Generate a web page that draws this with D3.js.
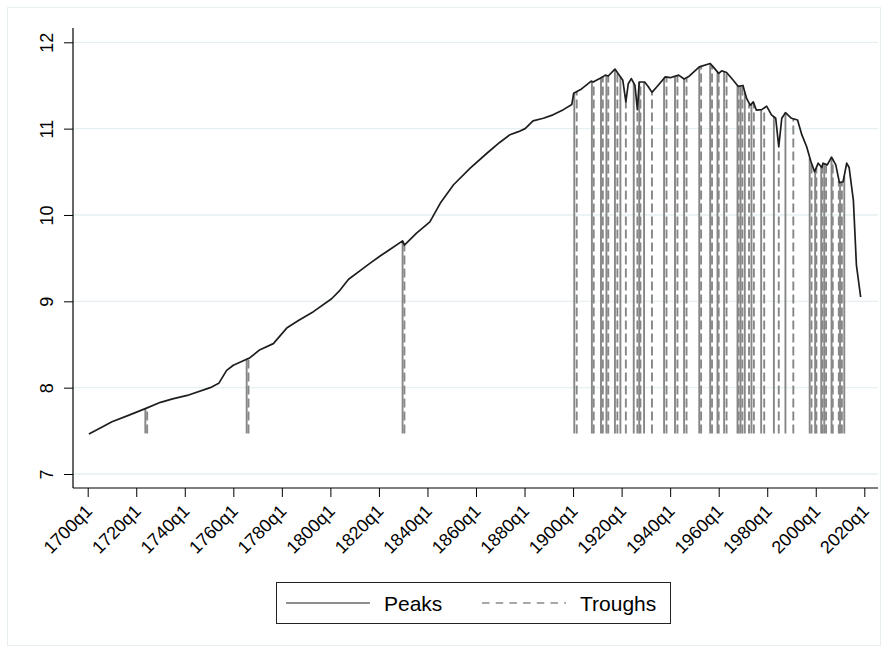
<!DOCTYPE html>
<html>
<head>
<meta charset="utf-8">
<script src="https://cdn.jsdelivr.net/npm/d3@7"></script>
<style>
  body { margin: 0; background: #fff; }
  text { font-family: "Liberation Sans", Arial, Helvetica, sans-serif; fill: #000; }
</style>
</head>
<body>
<div id="chart-container"></div>
<script>
// series (year as decimal, quarterly dates)
const seriesYears = [1700.5, 1705, 1710, 1716, 1724, 1730, 1735, 1741, 1750.5, 1754, 1757.25, 1760, 1765.5, 1766.5,
  1771, 1776.5, 1782, 1787, 1793, 1800.5, 1804, 1807.5, 1812, 1816.25, 1820.5, 1824.5, 1829.75, 1830.5, 1835.5,
  1841, 1845.25, 1850.75, 1857.5, 1864.5, 1869.75, 1874, 1877.5, 1880.25, 1883.5, 1887.75, 1891.75, 1896, 1899.5,
  1900.25, 1903.5, 1907.5, 1908.25, 1911, 1912.25, 1913.25, 1914.5, 1917.25, 1919.25, 1920.5, 1921.75, 1922.75,
  1924, 1925.5, 1926.5, 1927.25, 1929.5, 1931, 1932.5, 1935, 1938, 1940, 1943.5, 1945.75, 1947.5, 1951, 1952,
  1956.5, 1957.75, 1960, 1961.25, 1963.25, 1966, 1968, 1970, 1971.5, 1973, 1974.25, 1975.5, 1977.75, 1979.75,
  1981.75, 1983.5, 1984.75, 1986, 1987.5, 1990, 1992.5, 1994.25, 1996.25, 1998, 1999.5, 2001, 2002.5, 2003,
  2004.75, 2006.5, 2008.25, 2009.75, 2011.25, 2012.75, 2013.75, 2015.5, 2016.75, 2018.5];
const seriesValues = [7.463, 7.53, 7.605, 7.67, 7.76, 7.83, 7.87, 7.91, 8.0, 8.05, 8.2, 8.26, 8.33, 8.34,
  8.44, 8.51, 8.69, 8.78, 8.88, 9.03, 9.13, 9.255, 9.35, 9.44, 9.525, 9.6, 9.7, 9.65, 9.79,
  9.92, 10.135, 10.35, 10.54, 10.715, 10.84, 10.93, 10.965, 11.0, 11.09, 11.12, 11.16, 11.22, 11.28,
  11.41, 11.46, 11.55, 11.54, 11.58, 11.6, 11.62, 11.61, 11.69, 11.61, 11.56, 11.31, 11.52,
  11.58, 11.5, 11.22, 11.54, 11.54, 11.485, 11.42, 11.5, 11.6, 11.59, 11.62, 11.575, 11.6, 11.69, 11.715,
  11.755, 11.715, 11.64, 11.67, 11.65, 11.56, 11.49, 11.5, 11.35, 11.27, 11.31, 11.215, 11.22, 11.26,
  11.16, 11.12, 10.79, 11.12, 11.185, 11.12, 11.1, 10.93, 10.79, 10.62, 10.5, 10.6, 10.55, 10.6,
  10.58, 10.67, 10.58, 10.375, 10.385, 10.6, 10.55, 10.17, 9.42, 9.05];

const peakYears = [1723.75, 1765.5, 1829.75, 1900.5, 1907.75, 1911.5, 1913.75, 1917.25, 1919.5, 1925, 1927.25,
  1929.25, 1937.5, 1942, 1945.75, 1952, 1956.5, 1959.5, 1962.25, 1967.75, 1969, 1970.75, 1973.5, 1977.5,
  1982.75, 1987.5, 1997.5, 1999.75, 2002.25, 2003.5, 2006.5, 2010, 2011.75];
const peakValues = [7.76, 8.33, 9.7, 11.42, 11.555, 11.585, 11.62, 11.69, 11.6, 11.53, 11.54,
  11.54, 11.59, 11.61, 11.575, 11.715, 11.755, 11.65, 11.66, 11.5, 11.495, 11.42, 11.29, 11.22,
  11.14, 11.185, 10.66, 10.52, 10.555, 10.595, 10.67, 10.378, 10.45];

const troughYears = [1724.5, 1766.25, 1830.5, 1901.5, 1908.5, 1912.25, 1914.5, 1918.25, 1921.75, 1926.5, 1927.75,
  1932.5, 1938.5, 1943, 1946.75, 1952.75, 1957.25, 1960, 1963.25, 1968.25, 1969.75, 1972.5, 1974.5, 1978.75,
  1984.75, 1990.75, 1998.25, 2000.25, 2002.75, 2004.25, 2007, 2009.5, 2010.75];
const troughValues = [7.765, 8.34, 9.65, 11.43, 11.545, 11.6, 11.61, 11.65, 11.31, 11.22, 11.54,
  11.42, 11.6, 11.62, 11.585, 11.72, 11.73, 11.64, 11.65, 11.49, 11.5, 11.28, 11.29, 11.24,
  10.79, 11.115, 10.6, 10.545, 10.57, 10.585, 10.645, 10.39, 10.38];

const spikeBase = 7.47;
const xTickYears = [1700, 1720, 1740, 1760, 1780, 1800, 1820, 1840, 1860, 1880, 1900, 1920, 1940, 1960, 1980, 2000, 2020];
const yTicks = [7, 8, 9, 10, 11, 12];
const legendLabels = ["Peaks", "Troughs"];

const width = 888, height = 653;
const plot = { left: 73, right: 878, top: 28, bottom: 488 };
const spikeColor = "#878787";

const svg = d3.select("#chart-container").append("svg")
  .attr("width", width).attr("height", height);

// graph region outline
svg.append("rect")
  .attr("x", 7.5).attr("y", 7.5).attr("width", 873).attr("height", 638)
  .attr("fill", "none").attr("stroke", "#e8eff1");

const x = d3.scaleLinear().domain([1700, 2020]).range([87.7, 864.3]);
const y = d3.scaleLinear().domain([7, 12]).range([474, 42.3]);

// gridlines
svg.append("g").selectAll("line").data(yTicks).join("line")
  .attr("x1", plot.left).attr("x2", plot.right)
  .attr("y1", d => y(d)).attr("y2", d => y(d))
  .attr("stroke", "#e6eff1").attr("stroke-width", 1.3);

// peaks and troughs as spikes
const peaks = peakYears.map((t, i) => ({ t, v: peakValues[i] }));
const troughs = troughYears.map((t, i) => ({ t, v: troughValues[i] }));

svg.append("g").selectAll("line").data(peaks).join("line")
  .attr("x1", d => x(d.t)).attr("x2", d => x(d.t))
  .attr("y1", y(spikeBase)).attr("y2", d => y(d.v))
  .attr("stroke", spikeColor).attr("stroke-width", 1.9);

svg.append("g").selectAll("line").data(troughs).join("line")
  .attr("x1", d => x(d.t)).attr("x2", d => x(d.t))
  .attr("y1", y(spikeBase)).attr("y2", d => y(d.v))
  .attr("stroke", spikeColor).attr("stroke-width", 1.9)
  .attr("stroke-dasharray", "9,4");

// main series
const series = seriesYears.map((t, i) => ({ t, v: seriesValues[i] }));
const line = d3.line().x(d => x(d.t)).y(d => y(d.v));
svg.append("path").datum(series)
  .attr("fill", "none").attr("stroke", "#1e1e1e")
  .attr("stroke-width", 1.7).attr("stroke-linejoin", "round")
  .attr("d", line);

// axes
const yAxis = svg.append("g").attr("transform", `translate(${plot.left},0)`)
  .call(d3.axisLeft(y).tickValues(yTicks).tickFormat(d3.format("d")).tickSize(9).tickSizeOuter(0).tickPadding(0));
yAxis.select(".domain").remove();
yAxis.selectAll(".tick line").attr("stroke", "#000");
yAxis.selectAll(".tick text")
  .attr("font-size", 18)
  .attr("text-anchor", "middle")
  .attr("x", null).attr("dy", null)
  .attr("dominant-baseline", "central")
  .attr("transform", "translate(-26,0) rotate(-90)");

const xAxis = svg.append("g").attr("transform", `translate(0,${plot.bottom})`)
  .call(d3.axisBottom(x).tickValues(xTickYears).tickFormat(d => `${d}q1`).tickSize(9).tickSizeOuter(0));
xAxis.select(".domain").remove();
xAxis.selectAll(".tick line").attr("stroke", "#000");
xAxis.selectAll(".tick text")
  .attr("font-size", 18)
  .attr("text-anchor", "end")
  .attr("y", null).attr("dy", null)
  .attr("dominant-baseline", "central")
  .attr("transform", "translate(1,20) rotate(-45)");

svg.append("line")
  .attr("x1", plot.left).attr("x2", plot.left)
  .attr("y1", plot.top).attr("y2", plot.bottom)
  .attr("stroke", "#000").attr("stroke-width", 1.2);
svg.append("line")
  .attr("x1", plot.left).attr("x2", plot.right)
  .attr("y1", plot.bottom).attr("y2", plot.bottom)
  .attr("stroke", "#000").attr("stroke-width", 1.2);

// legend
const legend = svg.append("g");
legend.append("rect")
  .attr("x", 276.5).attr("y", 582.5).attr("width", 394).attr("height", 41)
  .attr("fill", "#fff").attr("stroke", "#222");
legend.append("line")
  .attr("x1", 286).attr("x2", 370).attr("y1", 603).attr("y2", 603)
  .attr("stroke", "#6a6a6a").attr("stroke-width", 1.3);
legend.append("line")
  .attr("x1", 482).attr("x2", 566).attr("y1", 603).attr("y2", 603)
  .attr("stroke", "#8a8a8a").attr("stroke-width", 1.3)
  .attr("stroke-dasharray", "7.5,6.2");
legend.selectAll("text").data(legendLabels).join("text")
  .attr("x", (d, i) => i === 0 ? 384 : 580)
  .attr("y", 611)
  .attr("font-size", 21)
  .text(d => d);
</script>
</body>
</html>
